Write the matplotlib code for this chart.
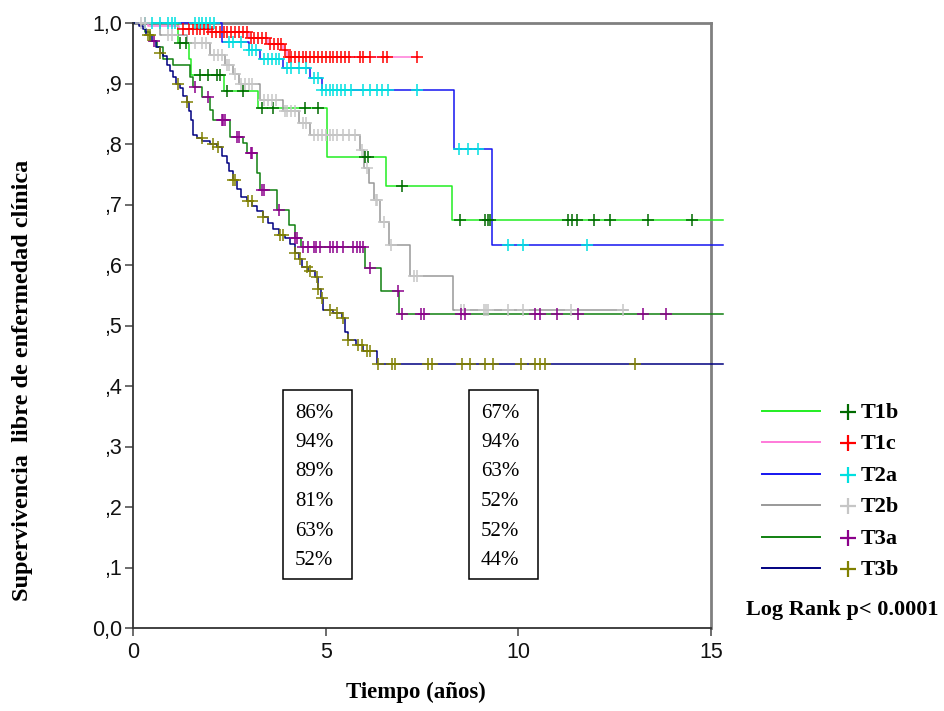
import matplotlib
matplotlib.use("Agg")
import matplotlib.pyplot as plt
from matplotlib.lines import Line2D
from matplotlib.patches import Rectangle
import numpy as np

# ---------------- data ----------------
groups = ["T1b", "T1c", "T2a", "T2b", "T3a", "T3b"]

t1b_times = [0, 1.17, 1.45, 1.5, 2.35, 3.25, 5.04, 6.57, 8.28]
t1b_surv = [1.0, 0.967, 0.94, 0.914, 0.888, 0.86, 0.779, 0.731, 0.674]
t1b_cens = [1.22, 1.37, 1.74, 1.95, 2.18, 2.26, 2.44, 2.85, 3.35, 3.63, 4.46, 4.8,
            6.02, 6.1, 6.98, 8.49, 9.14, 9.21, 9.27, 11.29, 11.39, 11.52, 11.96,
            12.38, 13.37, 14.51]
t1b_end = 15.3

t1c_times = [0, 0.4, 1.2, 2.0, 3.0, 3.5, 3.9, 4.0]
t1c_surv = [1.0, 0.995, 0.99, 0.985, 0.976, 0.966, 0.955, 0.944]
t1c_cens = [0.3, 1.3, 1.45, 1.55, 1.65, 1.75, 1.85, 1.95, 2.05, 2.15, 2.25, 2.35,
            2.45, 2.55, 2.65, 2.75, 2.85, 2.95, 3.05, 3.15, 3.25, 3.35, 3.45,
            3.55, 3.65, 3.75, 3.85, 3.95, 4.05, 4.1, 4.2, 4.3, 4.4, 4.5, 4.6,
            4.7, 4.8, 4.9, 5.0, 5.1, 5.2, 5.3, 5.4, 5.5, 5.6, 5.9, 5.97, 6.15,
            6.49, 6.59, 7.37]
t1c_end = 7.4

t2a_times = [0, 2.3, 3.0, 3.3, 3.9, 4.6, 4.9, 8.33, 9.32]
t2a_surv = [1.0, 0.968, 0.955, 0.94, 0.925, 0.909, 0.889, 0.792, 0.633]
t2a_cens = [0.3, 0.5, 0.7, 0.9, 1.0, 1.1, 1.6, 1.7, 1.8, 1.9, 2.0, 2.1, 2.5, 2.6,
            2.8, 3.0, 3.1, 3.2, 3.4, 3.5, 3.6, 3.7, 3.8, 4.0, 4.1, 4.3, 4.5,
            4.7, 4.8, 4.9, 5.0, 5.1, 5.2, 5.3, 5.4, 5.5, 5.65, 5.97, 6.15, 6.33,
            6.46, 6.62, 7.37, 8.45, 8.7, 8.95, 9.73, 10.12, 11.78]
t2a_end = 15.3

t2b_times = [0, 0.7, 1.4, 2.0, 2.4, 2.6, 2.75, 3.3, 3.9, 4.3, 4.6, 5.9, 6.0,
             6.12, 6.25, 6.4, 6.65, 7.2, 8.3]
t2b_surv = [1.0, 0.98, 0.967, 0.947, 0.93, 0.915, 0.9, 0.872, 0.855, 0.835,
            0.815, 0.79, 0.76, 0.735, 0.707, 0.671, 0.633, 0.582, 0.526]
t2b_cens = [0.2, 0.3, 0.9, 1.0, 1.6, 1.8, 1.9, 2.1, 2.2, 2.3, 2.45, 2.5, 2.65,
            2.8, 2.9, 3.0, 3.1, 3.4, 3.5, 3.6, 3.7, 3.95, 4.0, 4.1, 4.2, 4.4,
            4.5, 4.7, 4.8, 4.9, 5.0, 5.1, 5.2, 5.3, 5.45, 5.6, 5.75, 5.95, 6.08,
            6.3, 6.33, 6.52, 6.7, 7.3, 7.38, 8.5, 8.6, 9.1, 9.15, 9.2, 9.73,
            10.12, 11.37, 12.72]
t2b_end = 12.85

t3a_times = [0, 0.3, 0.45, 0.62, 0.78, 1.04, 1.48, 1.56, 1.79, 2.0, 2.08, 2.52,
             2.85, 2.96, 3.22, 3.3, 3.74, 4.05, 4.2, 4.35, 6.02, 6.44, 6.91]
t3a_surv = [1.0, 0.985, 0.97, 0.96, 0.94, 0.93, 0.91, 0.894, 0.878, 0.856, 0.84,
            0.812, 0.802, 0.785, 0.752, 0.724, 0.691, 0.666, 0.645, 0.630, 0.595,
            0.557, 0.519]
t3a_cens = [0.55, 1.6, 1.95, 2.3, 2.34, 2.4, 2.7, 2.75, 3.05, 3.1, 3.35, 3.4, 3.8,
            4.2, 4.25, 4.41, 4.55, 4.7, 4.75, 4.85, 5.11, 5.2, 5.3, 5.45, 5.71,
            5.81, 5.89, 5.97, 6.15, 6.88, 6.98, 7.47, 7.55, 8.52, 8.62, 10.43,
            10.56, 11.01, 11.55, 13.24, 13.84]
t3a_end = 15.3

t3b_times = [0, 0.15, 0.26, 0.35, 0.49, 0.6, 0.7, 0.78, 0.88, 0.96, 1.05, 1.12,
             1.22, 1.3, 1.4, 1.45, 1.5, 1.56, 1.65, 1.8, 2.0, 2.18, 2.3, 2.44,
             2.5, 2.6, 2.7, 2.8, 2.95, 3.1, 3.22, 3.37, 3.5, 3.63, 3.8, 3.95,
             4.07, 4.2, 4.3, 4.39, 4.55, 4.72, 4.8, 4.88, 4.93, 5.2, 5.42, 5.5,
             5.58, 5.8, 5.97, 6.33]
t3b_surv = [1.0, 0.995, 0.99, 0.98, 0.97, 0.96, 0.95, 0.945, 0.93, 0.92, 0.91,
            0.90, 0.893, 0.88, 0.87, 0.855, 0.84, 0.815, 0.81, 0.805, 0.80,
            0.795, 0.78, 0.769, 0.755, 0.74, 0.725, 0.712, 0.705, 0.698, 0.69,
            0.68, 0.67, 0.66, 0.65, 0.645, 0.635, 0.62, 0.61, 0.597, 0.59, 0.58,
            0.56, 0.545, 0.526, 0.52, 0.512, 0.49, 0.476, 0.468, 0.458, 0.437]
t3b_cens = [0.39, 0.44, 0.7, 1.17, 1.4, 1.79, 2.08, 2.21, 2.6, 2.65, 2.98, 3.09,
            3.37, 3.82, 3.89, 4.2, 4.33, 4.52, 4.6, 4.78, 4.8, 4.9, 5.11, 5.3,
            5.45, 5.58, 5.84, 5.94, 6.07, 6.15, 6.36, 6.72, 6.8, 7.66, 7.76,
            8.54, 8.75, 9.14, 9.34, 10.07, 10.43, 10.56, 10.69, 13.03]
t3b_end = 15.3

line_colors = ["#22ee22", "#ff7ad9", "#1515f0", "#999999", "#108010", "#000080"]
mark_colors = ["#006a00", "#ff0000", "#00e0e0", "#c6c6c6", "#8b008b", "#808000"]

pct_5y = ["86%", "94%", "89%", "81%", "63%", "52%"]
pct_10y = ["67%", "94%", "63%", "52%", "52%", "44%"]

y_ticks = [0.0, 0.1, 0.2, 0.3, 0.4, 0.5, 0.6, 0.7, 0.8, 0.9, 1.0]
y_ticklabels = ["0,0", ",1", ",2", ",3", ",4", ",5", ",6", ",7", ",8", ",9", "1,0"]
x_ticks = [0, 5, 10, 15]

data = [
    (t1b_times, t1b_surv, t1b_cens, t1b_end),
    (t1c_times, t1c_surv, t1c_cens, t1c_end),
    (t2a_times, t2a_surv, t2a_cens, t2a_end),
    (t2b_times, t2b_surv, t2b_cens, t2b_end),
    (t3a_times, t3a_surv, t3a_cens, t3a_end),
    (t3b_times, t3b_surv, t3b_cens, t3b_end),
]

# ---------------- figure ----------------
W, H = 944, 711
fig = plt.figure(figsize=(W / 100, H / 100), dpi=100)

def fx(px):
    return px / W

def fy(py):
    return 1 - py / H

ax = fig.add_axes([fx(133), fy(628), fx(711) - fx(133), fy(23) - fy(628)])
ax.set_xlim(0, 15)
ax.set_ylim(0, 1)

def surv_at(times, surv, t):
    idx = np.searchsorted(times, t, side="right") - 1
    return surv[max(idx, 0)]

for (times, surv, cens, end), lc in zip(data, line_colors):
    xs = list(times) + [end]
    ys = list(surv) + [surv[-1]]
    ax.step(xs, ys, where="post", color=lc, lw=1.1, clip_on=False, zorder=2)

for (times, surv, cens, end), mc in zip(data, mark_colors):
    cy = [surv_at(times, surv, c) for c in cens]
    ax.plot(cens, cy, ls="none", marker="+", ms=9, mew=1.1, color=mc,
            clip_on=False, zorder=3)

for side in ["left", "bottom"]:
    ax.spines[side].set_color("#333333")
    ax.spines[side].set_linewidth(1.3)
for side in ["top", "right"]:
    ax.spines[side].set_color("#808080")
    ax.spines[side].set_linewidth(2)
    ax.spines[side].set_zorder(1)

ax.set_yticks(y_ticks)
ax.set_yticklabels(y_ticklabels)
ax.set_xticks(x_ticks)
ax.set_xticklabels([str(v) for v in x_ticks])
ax.tick_params(axis="both", direction="out", length=6, width=1.1,
               color="#444444", labelsize=15.5, pad=2)
ax.tick_params(axis="x", pad=4)
for lab in ax.get_xticklabels() + ax.get_yticklabels():
    lab.set_fontfamily("Liberation Sans")
    lab.set_color("#111111")

fig.text(fx(416), fy(692), "Tiempo (años)", ha="center", va="center",
         fontsize=16.5, fontweight="bold", family="Liberation Serif")
fig.text(fx(23), fy(380), "Supervivencia  libre de enfermedad clínica",
         ha="center", va="center", rotation=90, fontsize=17.5,
         fontweight="bold", family="Liberation Serif")

# percentage boxes
for left, vals in [(283, pct_5y), (469, pct_10y)]:
    fig.add_artist(Rectangle((fx(left), fy(579)), fx(69), fy(390) - fy(579),
                             transform=fig.transFigure, fill=False,
                             edgecolor="black", lw=1.1))
    for i, v in enumerate(vals):
        fig.text(fx(left + 12), fy(413 + i * 29.5), v, ha="left", va="center",
                 fontsize=15, family="Liberation Serif")

# legend
for i, g in enumerate(groups):
    py = 411 + i * 31.4
    fig.add_artist(Line2D([fx(762), fx(820)], [fy(py), fy(py)],
                          transform=fig.transFigure, color=line_colors[i], lw=1.4))
    fig.add_artist(Line2D([fx(848)], [fy(py + 1)], transform=fig.transFigure,
                          marker="+", ms=12, mew=1.6, color=mark_colors[i], ls="none"))
    fig.text(fx(861), fy(py + 2), g, ha="left", va="center", fontsize=16,
             fontweight="bold", family="Liberation Serif")

fig.text(fx(746), fy(610), "Log Rank p< 0.0001", ha="left", va="center",
         fontsize=16, fontweight="bold", family="Liberation Serif")

fig.savefig("out.png", dpi=100)
